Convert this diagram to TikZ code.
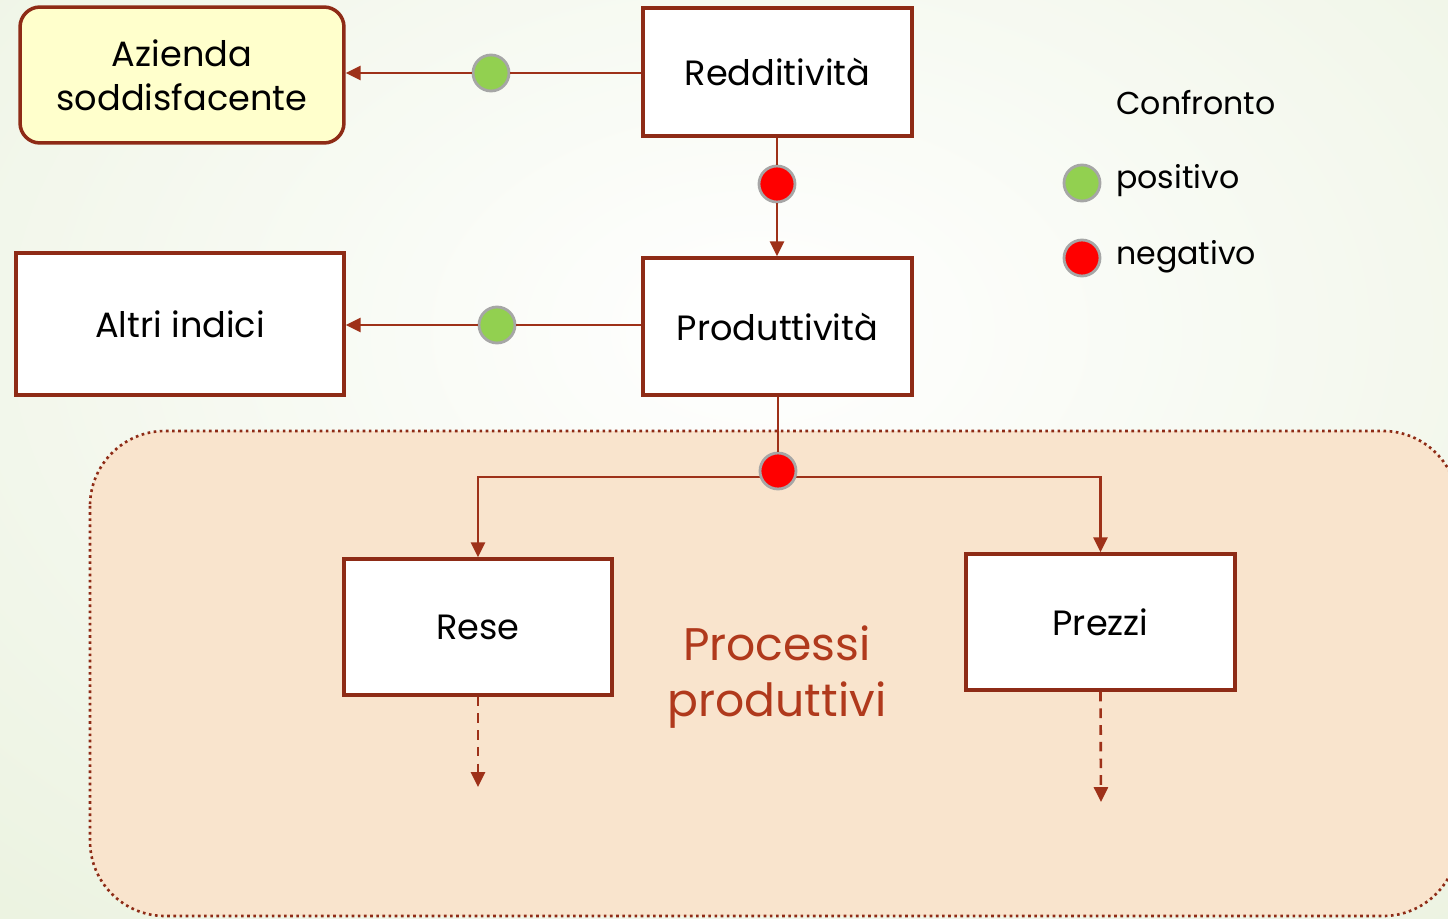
\documentclass[tikz,border=0pt]{standalone}
\usepackage{fontspec}
\setmainfont{Poppins}
\usetikzlibrary{arrows.meta}
\definecolor{brd}{HTML}{8E2B16}
\definecolor{ln}{HTML}{9E3119}
\definecolor{peach}{HTML}{F9E4CD}
\definecolor{yel}{HTML}{FFFFCC}
\definecolor{gdot}{HTML}{92D050}
\definecolor{rdot}{HTML}{FF0000}
\definecolor{gring}{HTML}{A6A6A6}
\definecolor{bgg}{HTML}{E6EFD8}
\definecolor{ptxt}{HTML}{B0391C}
\tikzset{
  box/.style={draw=brd, line width=2pt, fill=white, align=center, inner sep=0pt,
    font=\fontsize{20}{25}\selectfont},
  dotn/.style={circle, draw=gring, line width=1.6pt, minimum size=0.72cm, inner sep=0pt},
  conn/.style={draw=ln, line width=1.5pt},
  arr/.style={-{Triangle[length=8.5pt,width=8pt]}},
  dashln/.style={dash pattern=on 5.5pt off 4pt},
  legtxt/.style={anchor=west, inner sep=0pt, font=\fontsize{18}{22}\selectfont}
}
\begin{document}
\begin{tikzpicture}[x=0.02cm,y=-0.02cm]
\useasboundingbox (0,0) rectangle (1448,919);
\clip (0,0) rectangle (1448,919);
% background
\fill[bgg] (0,0) rectangle (1448,919);
\shade[inner color=white, outer color=bgg] (760,330) ellipse (1500 and 1000);
% region
\draw[brd, dotted, line width=1.5pt, fill=peach, rounded corners=1.5cm] (90,431) rectangle (1458,916);
% boxes
\node[box, fill=yel, rounded corners=0.4cm, minimum width=6.48cm, minimum height=2.72cm] (az) at (182,75) {Azienda\\soddisfacente};
\node[box, minimum width=5.38cm, minimum height=2.56cm] (red) at (777.5,72) {Redditività};
\node[box, minimum width=5.38cm, minimum height=2.74cm] (prod) at (777.5,326.5) {Produttività};
\node[box, minimum width=6.56cm, minimum height=2.84cm] (alt) at (180,324) {Altri indici};
\node[box, minimum width=5.36cm, minimum height=2.72cm] (rese) at (478,627) {Rese};
\node[box, minimum width=5.38cm, minimum height=2.72cm] (prezzi) at (1100.5,622) {Prezzi};
% branch lines below the red dot
\coordinate (bl) at (778,477);
\draw[conn, arr] (bl) -| (rese.north);
\draw[conn, arr] (bl) -| (prezzi.north);
% dots
\node[dotn, fill=gdot] (g1) at (491,73) {};
\node[dotn, fill=rdot] (r1) at (777,184) {};
\node[dotn, fill=gdot] (g2) at (497,325) {};
\node[dotn, fill=rdot] (r2) at (778,471) {};
% connectors
\draw[conn] (red.west |- g1) -- (g1);
\draw[conn, arr] (g1) -- (az.east |- g1);
\draw[conn] (red.south -| r1) -- (r1);
\draw[conn, arr] (r1) -- (prod.north -| r1);
\draw[conn] (prod.west |- g2) -- (g2);
\draw[conn, arr] (g2) -- (alt.east |- g2);
\draw[conn] (prod.south -| r2) -- (r2);
\coordinate (re) at (478,787);
\coordinate (pe) at (1101,802);
\draw[conn, dashln, arr] (rese.south) -- (re);
\draw[conn, dashln, arr] (prezzi.south) -- (pe);
% region label
\node[text=ptxt, align=center, font=\fontsize{26}{32}\selectfont] (pp) at (777,677) {Processi\\produttivi};
% legend
\node[legtxt] (conf) at (1116,103) {Confronto};
\node[dotn, fill=gdot] (gl) at (1082,183) {};
\node[dotn, fill=rdot] (rl) at (1082,258) {};
\node[legtxt] (pos) at (1116,181) {positivo};
\node[legtxt] (neg) at (1116,257) {negativo};
\end{tikzpicture}
\end{document}
